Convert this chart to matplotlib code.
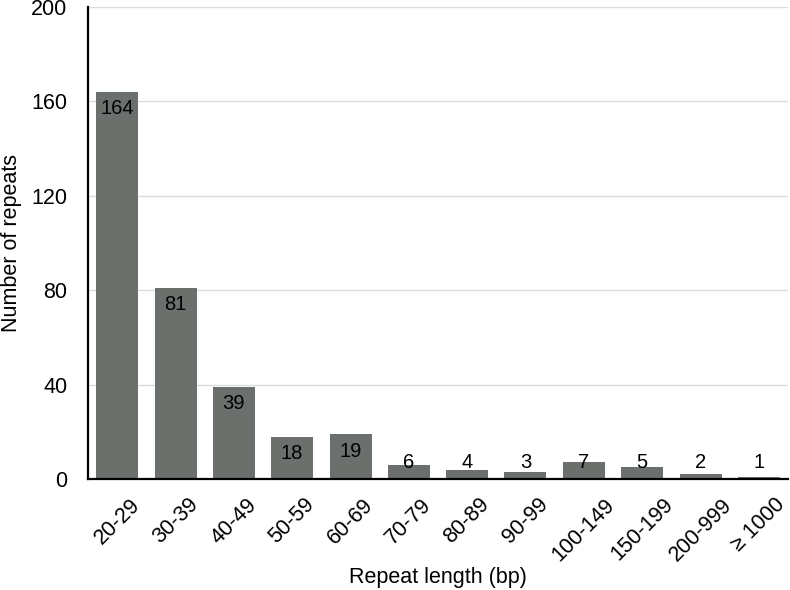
import matplotlib
matplotlib.use("Agg")
import matplotlib.pyplot as plt

plt.rcParams['font.family'] = ['Liberation Sans', 'DejaVu Sans']

categories = ["20-29", "30-39", "40-49", "50-59", "60-69", "70-79", "80-89",
              "90-99", "100-149", "150-199", "200-999", "\u2265 1000"]
counts = [164, 81, 39, 18, 19, 6, 4, 3, 7, 5, 2, 1]
yticks = [0, 40, 80, 120, 160, 200]

fig = plt.figure(figsize=(7.9, 5.9), dpi=100)
ax = fig.add_axes([88 / 790, 111 / 590, 700 / 790, 472 / 590])

x = range(len(categories))
ax.bar(x, counts, width=0.72, color='#6c706d', zorder=2)

# value labels: just under the bar top, with a floor for the short bars
for i, v in enumerate(counts):
    ax.text(i, max(v - 7.2, 6.8), str(v), ha='center', va='center',
            fontsize=14.5, color='black', zorder=3)

ax.set_xlim(-0.5, len(categories) - 0.5)
ax.set_ylim(0, 200)
ax.set_yticks(yticks)
ax.set_xticks(list(x))
ax.set_xticklabels(categories, rotation=45, ha='center', va='top')
ax.tick_params(axis='both', length=0, labelsize=15.5)
ax.tick_params(axis='x', pad=11)
ax.tick_params(axis='y', pad=15)

ax.yaxis.grid(True, color='#dcdcdc', lw=1, zorder=0)
ax.set_axisbelow(True)
for s in ['top', 'right']:
    ax.spines[s].set_visible(False)
for s in ['left', 'bottom']:
    ax.spines[s].set_linewidth(1.6)
    ax.spines[s].set_color('black')

ax.set_ylabel("Number of repeats", fontsize=15.5)
ax.set_xlabel("Repeat length (bp)", fontsize=15.5)
ax.yaxis.set_label_coords((12 - 88) / 700, 0.5)
ax.xaxis.set_label_coords(0.5, -(578 - 479) / 472)
ax.xaxis.label.set_va('center')
ax.yaxis.label.set_va('center')

fig.savefig("out.png", dpi=100)
